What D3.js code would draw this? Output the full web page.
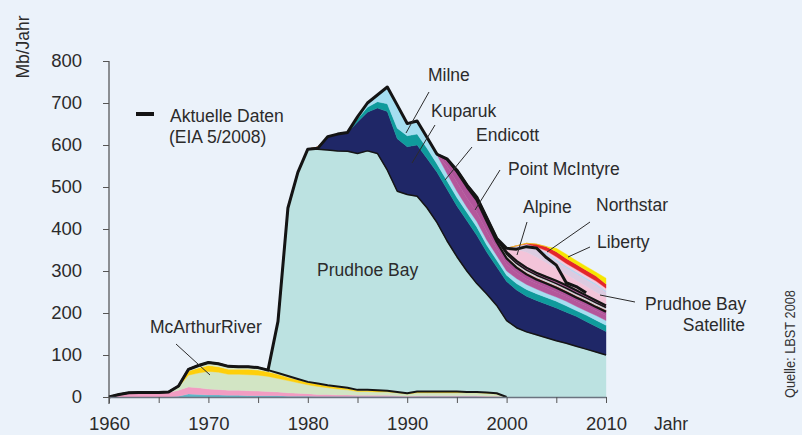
<!DOCTYPE html>
<html>
<head>
<meta charset="utf-8">
<script src="https://cdn.jsdelivr.net/npm/d3@7"></script>
<style>
	body { margin: 0; background: #ebf2fa; }
	svg { display: block; font-family: 'Liberation Sans', Arial, sans-serif; }
	.axis text { font-size: 18.5px; fill: #2b2b2b; }
	.label { font-size: 17.5px; fill: #2b2b2b; }
	.pointer { stroke: #2b2b2b; stroke-width: 1; }
</style>
</head>
<body>
<script>
/* Data: Mb per year, 1960 - 2010. */
const years = d3.range(1960, 2011);
const yTicks = [0, 100, 200, 300, 400, 500, 600, 700, 800];
const xTicks = [1960, 1965, 1970, 1975, 1980, 1985, 1990, 1995, 2000, 2005, 2010];

/* Cook Inlet */
const swanson = [
	0, 0, 0, 0, 0, 0, 0, 2, 7, 6,
	5, 5, 4, 4, 3, 3, 3, 3, 2, 2,
	2, 1, 1, 1, 1, 1, 1, 1, 1, 1,
	0, 1, 1, 1, 1, 1, 1, 1, 0, 0,
	0, 0, 0, 0, 0, 0, 0, 0, 0, 0,
	0];
const cookPink = [
	0, 6, 10, 11, 11, 11, 11, 14, 17, 16,
	14, 13, 12, 12, 12, 11, 10, 9, 8, 7,
	6, 5, 5, 4, 4, 3, 3, 3, 3, 2,
	2, 2, 2, 2, 2, 2, 2, 2, 2, 2,
	0, 0, 0, 0, 0, 0, 0, 0, 0, 0,
	0];
const mcArthur = [
	0, 0, 0, 0, 0, 0, 1, 8, 28, 35,
	42, 41, 38, 38, 38, 38, 36, 32, 29, 25,
	21, 19, 16, 14, 12, 9, 9, 8, 8, 7,
	5, 7, 7, 7, 7, 7, 7, 7, 7, 5,
	0, 0, 0, 0, 0, 0, 0, 0, 0, 0,
	0];
const cookYellow = [
	0, 0, 0, 0, 0, 0, 0, 2, 10, 12,
	14, 13, 12, 12, 13, 12, 11, 10, 8, 7,
	6, 6, 5, 5, 4, 3, 3, 3, 2, 2,
	2, 3, 3, 3, 3, 3, 2, 2, 2, 2,
	0, 0, 0, 0, 0, 0, 0, 0, 0, 0,
	0];
const cookGreen = [
	0, 0, 0, 0, 0, 0, 0, 0, 4, 6,
	7, 7, 7, 6, 6, 6, 4, 3, 3, 2,
	1, 1, 1, 1, 1, 1, 1, 1, 1, 0,
	0, 0, 0, 0, 0, 0, 0, 0, 0, 0,
	0, 0, 0, 0, 0, 0, 0, 0, 0, 0,
	0];

/* North Slope */
const prudhoe = [
	0, 0, 0, 0, 0, 0, 0, 0, 0, 0,
	0, 0, 0, 0, 0, 0, 0, 123, 400, 492,
	554, 558, 560, 561, 563, 563, 569, 564, 525, 478,
	473, 465, 437, 402, 359, 321, 288, 258, 234, 209,
	182, 165, 155, 148, 141, 134, 128, 121, 114, 107,
	100];
const kuparuk = [
	0, 0, 0, 0, 0, 0, 0, 0, 0, 0,
	0, 0, 0, 0, 0, 0, 0, 0, 0, 0,
	0, 5, 32, 40, 44, 75, 92, 108, 140, 125,
	114, 122, 118, 120, 123, 121, 120, 115, 100, 92,
	93, 90, 85, 82, 80, 78, 74, 71, 66, 61,
	56];
const lisburne = [
	0, 0, 0, 0, 0, 0, 0, 0, 0, 0,
	0, 0, 0, 0, 0, 0, 0, 0, 0, 0,
	0, 0, 0, 0, 0, 7, 12, 15, 18, 25,
	26, 26, 24, 20, 20, 20, 20, 20, 17, 16,
	15, 15, 16, 16, 16, 16, 15, 14, 15, 15,
	15];
const milne = [
	0, 0, 0, 0, 0, 0, 0, 0, 0, 0,
	0, 0, 0, 0, 0, 0, 0, 0, 0, 0,
	0, 0, 0, 0, 1, 5, 10, 16, 40, 55,
	29, 31, 26, 21, 17, 15, 12, 13, 12, 11,
	10, 12, 12, 11, 10, 10, 11, 10, 10, 11,
	11];
const endicott = [
	0, 0, 0, 0, 0, 0, 0, 0, 0, 0,
	0, 0, 0, 0, 0, 0, 0, 0, 0, 0,
	0, 0, 0, 0, 0, 0, 0, 0, 0, 0,
	0, 0, 0, 1, 18, 22, 22, 22, 20, 18,
	16, 14, 13, 13, 13, 12, 12, 12, 12, 12,
	12];
const pointMcIntyre = [
	0, 0, 0, 0, 0, 0, 0, 0, 0, 0,
	0, 0, 0, 0, 0, 0, 0, 0, 0, 0,
	0, 0, 0, 0, 0, 0, 0, 0, 0, 0,
	0, 0, 0, 1, 16, 24, 26, 28, 24, 14,
	14, 12, 11, 10, 10, 10, 9, 9, 9, 8,
	9];
const niakuk = [
	0, 0, 0, 0, 0, 0, 0, 0, 0, 0,
	0, 0, 0, 0, 0, 0, 0, 0, 0, 0,
	0, 0, 0, 0, 0, 0, 0, 0, 0, 0,
	0, 0, 0, 0, 1, 2, 2, 3, 3, 3,
	4, 4, 4, 4, 4, 4, 4, 4, 4, 4,
	4];
const badami = [
	0, 0, 0, 0, 0, 0, 0, 0, 0, 0,
	0, 0, 0, 0, 0, 0, 0, 0, 0, 0,
	0, 0, 0, 0, 0, 0, 0, 0, 0, 0,
	0, 0, 0, 0, 0, 1, 1, 2, 3, 3,
	6, 6, 6, 6, 6, 6, 6, 6, 6, 6,
	6];
const tarn = [
	0, 0, 0, 0, 0, 0, 0, 0, 0, 0,
	0, 0, 0, 0, 0, 0, 0, 0, 0, 0,
	0, 0, 0, 0, 0, 0, 0, 0, 0, 0,
	0, 0, 0, 0, 0, 1, 2, 3, 3, 3,
	5, 6, 6, 6, 6, 7, 7, 7, 6, 6,
	5];
const alpine = [
	0, 0, 0, 0, 0, 0, 0, 0, 0, 0,
	0, 0, 0, 0, 0, 0, 0, 0, 0, 0,
	0, 0, 0, 0, 0, 0, 0, 0, 0, 0,
	0, 0, 0, 0, 0, 0, 0, 0, 0, 0,
	9, 28, 37, 38, 34, 29, 26, 24, 22, 20,
	19];
const pbSatellite = [
	0, 0, 0, 0, 0, 0, 0, 0, 0, 0,
	0, 0, 0, 0, 0, 0, 0, 0, 0, 0,
	0, 0, 0, 0, 0, 0, 0, 0, 0, 0,
	0, 0, 0, 0, 0, 0, 0, 0, 0, 0,
	0, 8, 15, 18, 20, 18, 16, 16, 16, 16,
	13];
const palm = [
	0, 0, 0, 0, 0, 0, 0, 0, 0, 0,
	0, 0, 0, 0, 0, 0, 0, 0, 0, 0,
	0, 0, 0, 0, 0, 0, 0, 0, 0, 0,
	0, 0, 0, 0, 0, 0, 0, 0, 0, 0,
	0, 0, 2, 3, 4, 4, 4, 4, 4, 4,
	3];
const northstar = [
	0, 0, 0, 0, 0, 0, 0, 0, 0, 0,
	0, 0, 0, 0, 0, 0, 0, 0, 0, 0,
	0, 0, 0, 0, 0, 0, 0, 0, 0, 0,
	0, 0, 0, 0, 0, 0, 0, 0, 0, 0,
	0, 0, 2, 3, 4, 6, 6, 6, 6, 6,
	6];
const liberty = [
	0, 0, 0, 0, 0, 0, 0, 0, 0, 0,
	0, 0, 0, 0, 0, 0, 0, 0, 0, 0,
	0, 0, 0, 0, 0, 0, 0, 0, 0, 0,
	0, 0, 0, 0, 0, 0, 0, 0, 0, 0,
	0, 0, 2, 6, 10, 12, 12, 12, 12, 12,
	10];
const other = [
	0, 0, 0, 0, 0, 0, 0, 0, 0, 0,
	0, 0, 0, 0, 0, 0, 0, 0, 0, 0,
	0, 0, 0, 0, 0, 0, 0, 0, 0, 0,
	0, 0, 0, 0, 0, 0, 0, 0, 0, 0,
	0, 0, 0, 0, 0, 8, 10, 9, 9, 9,
	14];

/* Aktuelle Daten (EIA 5/2008), 1960 - 2008 */
const actual = [
	0, 6, 10, 11, 11, 11, 12, 26, 66, 75,
	82, 79, 73, 72, 72, 70, 64, 180, 450, 535,
	590, 592, 620, 626, 630, 667, 700, 719, 738, 695,
	651, 657, 618, 578, 567, 540, 505, 476, 427, 378,
	354, 352, 358, 355, 332, 314, 272, 263, 248];

/* Layers, bottom to top. */
const layers = [
	{ key: 'swanson', values: swanson, color: '#5cb8c9' },
	{ key: 'cookPink', values: cookPink, color: '#f29cc2' },
	{ key: 'mcArthur', values: mcArthur, color: '#d2e5c4' },
	{ key: 'cookYellow', values: cookYellow, color: '#fecf0a' },
	{ key: 'cookGreen', values: cookGreen, color: '#d9e8c6' },
	{ key: 'prudhoe', values: prudhoe, color: '#bce2e1' },
	{ key: 'kuparuk', values: kuparuk, color: '#1f2767' },
	{ key: 'lisburne', values: lisburne, color: '#0f9b9c' },
	{ key: 'milne', values: milne, color: '#a5def0' },
	{ key: 'endicott', values: endicott, color: '#b4579b' },
	{ key: 'pointMcIntyre', values: pointMcIntyre, color: '#b0549a' },
	{ key: 'niakuk', values: niakuk, color: '#e23a3a' },
	{ key: 'badami', values: badami, color: '#cfcfd4' },
	{ key: 'tarn', values: tarn, color: '#b4579b' },
	{ key: 'alpine', values: alpine, color: '#f3c4d9' },
	{ key: 'pbSatellite', values: pbSatellite, color: '#dccbe1' },
	{ key: 'palm', values: palm, color: '#b5d6ef' },
	{ key: 'northstar', values: northstar, color: '#f6c8db' },
	{ key: 'liberty', values: liberty, color: '#e4262b' },
	{ key: 'other', values: other, color: '#f7e600' }
];

/* Black outlines: key, first and last year. */
const outlines = [
	{ key: 'cookGreen', from: 1960, to: 2000, width: 2 },
	{ key: 'prudhoe', from: 1977, to: 2010, width: 1.5 },
	{ key: 'pointMcIntyre', from: 1993, to: 2010, width: 2.2 },
	{ key: 'badami', from: 1995, to: 2010, width: 1.5 },
	{ key: 'tarn', from: 1995, to: 2010, width: 2.2 }
];

/**
 * Creates the SVG element.
 */
function createSvg() {
	return d3.select('body').append('svg')
		.attr('width', 802)
		.attr('height', 435);
}

/**
 * Draws the stacked area chart.
 */
function createChart() {
	let svg = createSvg();

	let xScale = d3.scaleLinear().domain([1960, 2010]).range([109, 606]);
	let yScale = d3.scaleLinear().domain([0, 800]).range([397, 61]);

	/* Table for d3.stack. */
	let rows = years.map(function(year, index) {
		let row = { year: year };
		for (let layer of layers) {
			row[layer.key] = layer.values[index];
		}
		return row;
	});
	let series = d3.stack().keys(layers.map(function(layer) { return layer.key; }))(rows);
	let colors = {};
	for (let layer of layers) {
		colors[layer.key] = layer.color;
	}

	let area = d3.area()
		.x(function(d) { return xScale(d.data.year); })
		.y0(function(d) { return yScale(d[0]); })
		.y1(function(d) { return yScale(d[1]); });

	svg.append('g')
		.selectAll('path')
			.data(series)
		.enter().append('path')
			.attr('fill', function(s) { return colors[s.key]; })
			.attr('stroke', function(s) { return colors[s.key]; })
			.attr('stroke-width', 0.4)
			.attr('d', area);

	/* Outlines of some layers. */
	let topLine = d3.line()
		.x(function(d) { return xScale(d.data.year); })
		.y(function(d) { return yScale(d[1]); });

	for (let outline of outlines) {
		let s = series.find(function(s) { return s.key === outline.key; });
		let points = s.filter(function(d) {
			return d.data.year >= outline.from && d.data.year <= outline.to;
		});
		svg.append('path')
			.attr('fill', 'none')
			.attr('stroke', '#151515')
			.attr('stroke-width', outline.width)
			.attr('stroke-linejoin', 'round')
			.attr('d', topLine(points));
	}

	/* Actual data line. */
	let actualLine = d3.line()
		.x(function(d, index) { return xScale(years[index]); })
		.y(function(d) { return yScale(d); });

	svg.append('path')
		.datum(actual)
		.attr('fill', 'none')
		.attr('stroke', '#141414')
		.attr('stroke-width', 3)
		.attr('stroke-linejoin', 'round')
		.attr('d', actualLine);

	/* Axes. */
	svg.append('g')
		.attr('class', 'axis')
		.attr('transform', 'translate(109,0)')
		.call(d3.axisLeft(yScale).tickValues(yTicks).tickSize(6).tickSizeOuter(0).tickPadding(21))
		.call(function(g) {
			g.select('.domain').attr('stroke', '#2b2b2b').attr('d', 'M0,61V404');
			g.selectAll('.tick line').attr('stroke', '#555');
		});

	svg.append('g')
		.attr('class', 'axis')
		.attr('transform', 'translate(0,397)')
		.call(d3.axisBottom(xScale).tickValues(xTicks).tickSize(6).tickSizeOuter(0).tickPadding(14)
			.tickFormat(function(d) { return d % 10 === 0 ? d : ''; }))
		.call(function(g) {
			g.select('.domain').attr('stroke', '#6b7480').attr('stroke-width', 1.5);
			g.selectAll('.tick line').attr('stroke', '#555');
		});

	/* Axis titles. */
	svg.append('text')
		.attr('class', 'label')
		.attr('font-size', '18.5px')
		.attr('transform', 'translate(29,47) rotate(-90)')
		.attr('text-anchor', 'middle')
		.text('Mb/Jahr');

	svg.append('text')
		.attr('class', 'label')
		.attr('font-size', '18.5px')
		.attr('x', 654)
		.attr('y', 430)
		.text('Jahr');

	svg.append('text')
		.attr('transform', 'translate(795,344) rotate(-90)')
		.attr('text-anchor', 'middle')
		.attr('font-size', '14px')
		.attr('fill', '#333')
		.attr('textLength', 108)
		.attr('lengthAdjust', 'spacingAndGlyphs')
		.text('Quelle: LBST 2008');

	/* Legend. */
	svg.append('line')
		.attr('x1', 136).attr('x2', 154)
		.attr('y1', 114).attr('y2', 114)
		.attr('stroke', '#141414')
		.attr('stroke-width', 4);
	svg.append('text').attr('class', 'label').attr('x', 170).attr('y', 122).text('Aktuelle Daten');
	svg.append('text').attr('class', 'label').attr('x', 169).attr('y', 143).text('(EIA 5/2008)');

	/* Field labels with pointers. */
	const annotations = [
		{ text: 'Milne', x: 428, y: 81, line: [429, 92, 406, 133] },
		{ text: 'Kuparuk', x: 431, y: 117, line: [435, 125, 412, 163] },
		{ text: 'Endicott', x: 476, y: 141, line: [472, 147, 445, 180] },
		{ text: 'Point McIntyre', x: 508, y: 175, line: [500, 170, 475, 210] },
		{ text: 'Alpine', x: 523, y: 213, line: [527, 222, 517, 255] },
		{ text: 'Northstar', x: 596, y: 211, line: [590, 222, 547, 252] },
		{ text: 'Liberty', x: 597, y: 248, line: [590, 247, 568, 257] },
		{ text: 'Prudhoe Bay', x: 317, y: 276, line: null },
		{ text: 'McArthurRiver', x: 150, y: 333, line: [176, 344, 210, 375] },
		{ text: 'Prudhoe Bay', x: 645, y: 310, line: [635, 302, 600, 295] }
	];

	for (let a of annotations) {
		if (a.line) {
			svg.append('line')
				.attr('class', 'pointer')
				.attr('x1', a.line[0]).attr('y1', a.line[1])
				.attr('x2', a.line[2]).attr('y2', a.line[3]);
		}
		svg.append('text')
			.attr('class', 'label')
			.attr('x', a.x)
			.attr('y', a.y)
			.text(a.text);
	}
	svg.append('text')
		.attr('class', 'label')
		.attr('x', 745)
		.attr('y', 331)
		.attr('text-anchor', 'end')
		.text('Satellite');
}

window.onload = function() {
	createChart();
};
</script>
</body>
</html>
